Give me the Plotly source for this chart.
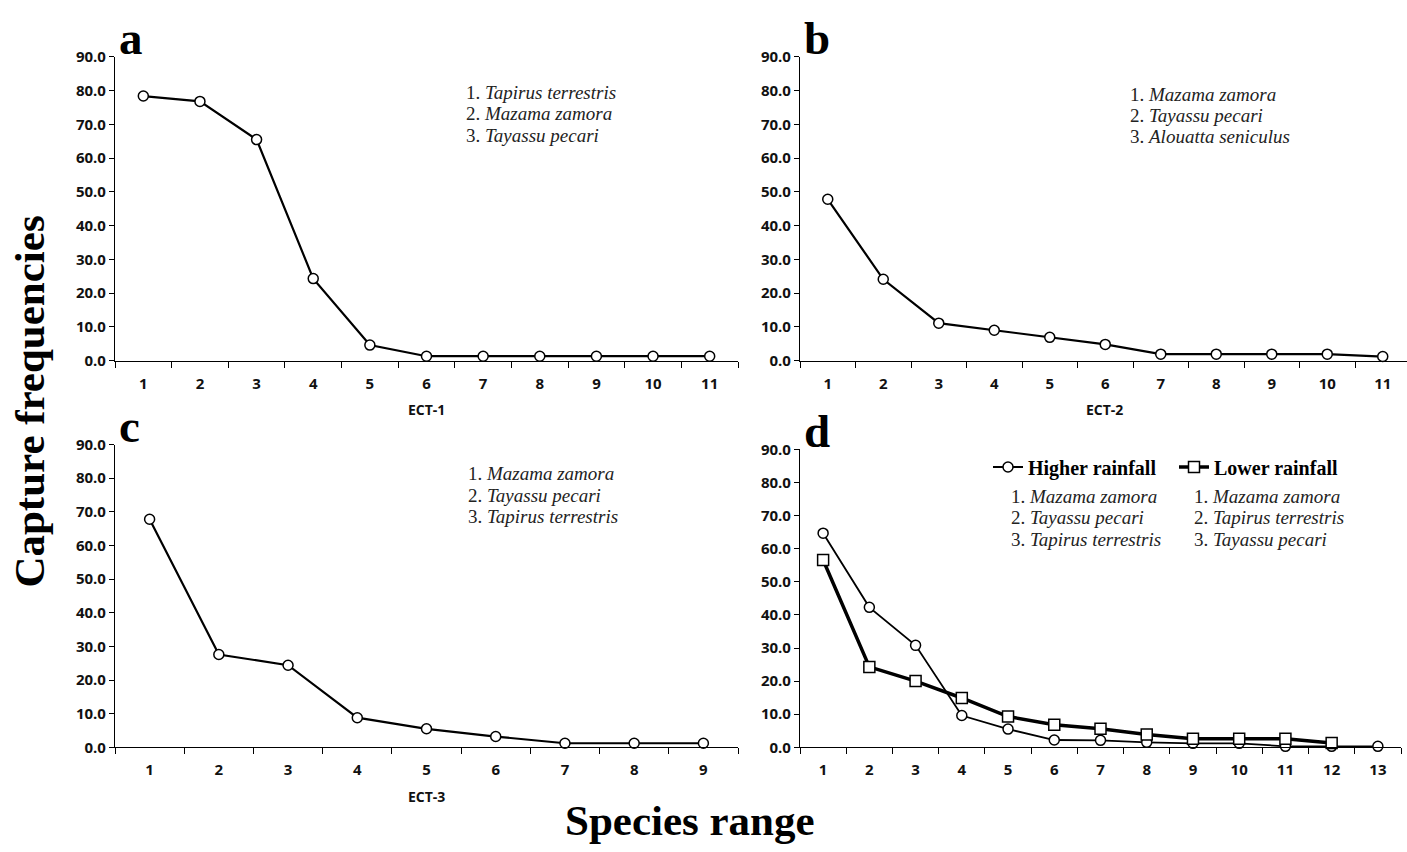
import plotly.graph_objects as go

W, H = 1407, 852  # design size (paper fractions computed from it)

# ---------------- data ----------------
rank_a = list(range(1, 12))
freq_a = [78.4, 76.8, 65.5, 24.3, 4.6, 1.3, 1.3, 1.3, 1.3, 1.3, 1.3]
species_a = ["Tapirus terrestris", "Mazama zamora", "Tayassu pecari"]

rank_b = list(range(1, 12))
freq_b = [47.8, 24.1, 11.1, 9.0, 6.9, 4.8, 1.9, 1.9, 1.9, 1.9, 1.2]
species_b = ["Mazama zamora", "Tayassu pecari", "Alouatta seniculus"]

rank_c = list(range(1, 10))
freq_c = [67.8, 27.6, 24.4, 8.8, 5.5, 3.2, 1.2, 1.2, 1.2]
species_c = ["Mazama zamora", "Tayassu pecari", "Tapirus terrestris"]

rank_d_high = list(range(1, 14))
freq_d_high = [64.7, 42.3, 30.8, 9.6, 5.5, 2.2, 2.1, 1.5, 1.2, 1.2, 0.3, 0.3, 0.3]
species_d_high = ["Mazama zamora", "Tayassu pecari", "Tapirus terrestris"]

rank_d_low = list(range(1, 13))
freq_d_low = [56.6, 24.3, 20.0, 14.9, 9.3, 6.8, 5.6, 3.9, 2.6, 2.6, 2.6, 1.3]
species_d_low = ["Mazama zamora", "Tapirus terrestris", "Tayassu pecari"]

panel_letters = ["a", "b", "c", "d"]
x_titles = ["ECT-1", "ECT-2", "ECT-3", ""]
y_title = "Capture frequencies"
x_title = "Species range"
legend_names = ["Higher rainfall", "Lower rainfall"]

# ---------------- helpers ----------------
def fx(p):
    return p / W

def fy(p):
    return 1 - p / H

SANS = "Open Sans"
SERIF = "Liberation Serif"

fig = go.Figure()

circle = dict(symbol="circle", size=10, color="white", line=dict(color="black", width=1.5))
square = dict(symbol="square", size=11, color="white", line=dict(color="black", width=1.5))

fig.add_trace(go.Scatter(x=rank_a, y=freq_a, mode="lines+markers", xaxis="x", yaxis="y",
                         line=dict(color="black", width=2.2), marker=circle,
                         showlegend=False, cliponaxis=False))
fig.add_trace(go.Scatter(x=rank_b, y=freq_b, mode="lines+markers", xaxis="x2", yaxis="y2",
                         line=dict(color="black", width=2.2), marker=circle,
                         showlegend=False, cliponaxis=False))
fig.add_trace(go.Scatter(x=rank_c, y=freq_c, mode="lines+markers", xaxis="x3", yaxis="y3",
                         line=dict(color="black", width=2.2), marker=circle,
                         showlegend=False, cliponaxis=False))
fig.add_trace(go.Scatter(x=rank_d_high, y=freq_d_high, mode="lines+markers", xaxis="x4", yaxis="y4",
                         name=legend_names[0], legend="legend",
                         line=dict(color="black", width=1.8), marker=circle,
                         showlegend=True, cliponaxis=False))
fig.add_trace(go.Scatter(x=rank_d_low, y=freq_d_low, mode="lines+markers", xaxis="x4", yaxis="y4",
                         name=legend_names[1], legend="legend2",
                         line=dict(color="black", width=3.5), marker=square,
                         showlegend=True, cliponaxis=False))

# panel geometry (design pixels): x0, x1, y_bottom(0), y_top(90), xmax
panels = [
    (115, 738, 358, 47, len(rank_a) + 0.5),
    (800, 1407, 358, 47, 0.5 + 607 / 55.5),
    (115, 738, 754, 444, len(rank_c) + 0.5),
    (800, 1401, 754, 449, len(rank_d_high) + 0.5),
]
counts = [len(rank_a), len(rank_b), len(rank_c), len(rank_d_high)]

tickfont = dict(family=SANS, size=15, color="#111", weight="bold")
layout = dict(
    width=W, height=H, autosize=False,
    margin=dict(l=0, r=0, t=0, b=0, pad=0),
    paper_bgcolor="white", plot_bgcolor="white",
    showlegend=True,
)

annotations = []
for i, (x0, x1, yb, yt, xmax) in enumerate(panels):
    suf = "" if i == 0 else str(i + 1)
    n = counts[i]
    layout["xaxis" + suf] = dict(
        domain=[fx(x0), fx(x1)], anchor="y" + suf, range=[0.5, xmax],
        tickmode="array", tickvals=list(range(1, n + 1)), ticktext=[str(k) for k in range(1, n + 1)],
        ticks="", showline=True, linecolor="black", linewidth=1.2,
        showgrid=False, zeroline=False, tickfont=tickfont, ticklabelstandoff=9,
        minor=dict(tickmode="array", tickvals=[k + 0.5 for k in range(0, n + 1)],
                   ticks="outside", ticklen=6, tickcolor="black", tickwidth=1.2, showgrid=False),
        fixedrange=True,
    )
    layout["yaxis" + suf] = dict(
        domain=[fy(yb), fy(yt)], anchor="x" + suf, range=[0, 90],
        tickmode="linear", tick0=0, dtick=10, tickformat=".1f",
        ticks="outside", ticklen=5, tickcolor="black", tickwidth=1.2,
        showline=True, linecolor="black", linewidth=1.2,
        showgrid=False, zeroline=False, tickfont=tickfont, fixedrange=True,
    )
    # panel letter, baseline just above the 90.0 tick
    annotations.append(dict(text="<b>%s</b>" % panel_letters[i], x=fx(x0 + 2), y=fy(yt - 19),
                            xref="paper", yref="paper", xanchor="left", yanchor="middle",
                            showarrow=False, font=dict(family=SERIF, size=47, color="black")))
    if x_titles[i]:
        annotations.append(dict(text="<b>%s</b>" % x_titles[i], x=fx((x0 + x1) / 2 if i != 1 else 1104),
                                y=fy(yb + 50), xref="paper", yref="paper",
                                xanchor="center", yanchor="middle", showarrow=False,
                                font=dict(family=SANS, size=14, color="#111")))

species_blocks = [
    (species_a, 464, 83),
    (species_b, 1128, 85),
    (species_c, 466, 474),
    (species_d_high, 1009, 497),
    (species_d_low, 1192, 497),
]
for names, sx, sy in species_blocks:
    for k, nm in enumerate(names):
        annotations.append(dict(text="%d. <i>%s</i>" % (k + 1, nm), x=fx(sx), y=fy(sy + 22 * k),
                                xref="paper", yref="paper", xanchor="left", yanchor="middle",
                                showarrow=False, font=dict(family=SERIF, size=19, color="#222")))

annotations.append(dict(text="<b>%s</b>" % y_title, x=fx(30), y=fy(400), xref="paper", yref="paper",
                        textangle=-90, xanchor="center", yanchor="middle", showarrow=False,
                        font=dict(family=SERIF, size=43, color="black")))
annotations.append(dict(text="<b>%s</b>" % x_title, x=fx(690), y=fy(829), xref="paper", yref="paper",
                        xanchor="center", yanchor="middle", showarrow=False,
                        font=dict(family=SERIF, size=43, color="black")))

layout["annotations"] = annotations
legend_common = dict(
    orientation="v", xanchor="left", yanchor="top",
    font=dict(family=SERIF, size=20, color="black", weight="bold"),
    bgcolor="rgba(0,0,0,0)", itemwidth=30, borderwidth=0,
)
layout["legend"] = dict(x=fx(988), y=fy(447), **legend_common)
layout["legend2"] = dict(x=fx(1174), y=fy(447), **legend_common)
fig.update_layout(**layout)

post = (
    "document.documentElement.style.margin='0';"
    "document.documentElement.style.overflow='hidden';"
    "document.body.style.margin='0';"
    "document.body.style.overflow='hidden';"
)
fig.write_html("out.html", config={"displayModeBar": False}, post_script=post)
